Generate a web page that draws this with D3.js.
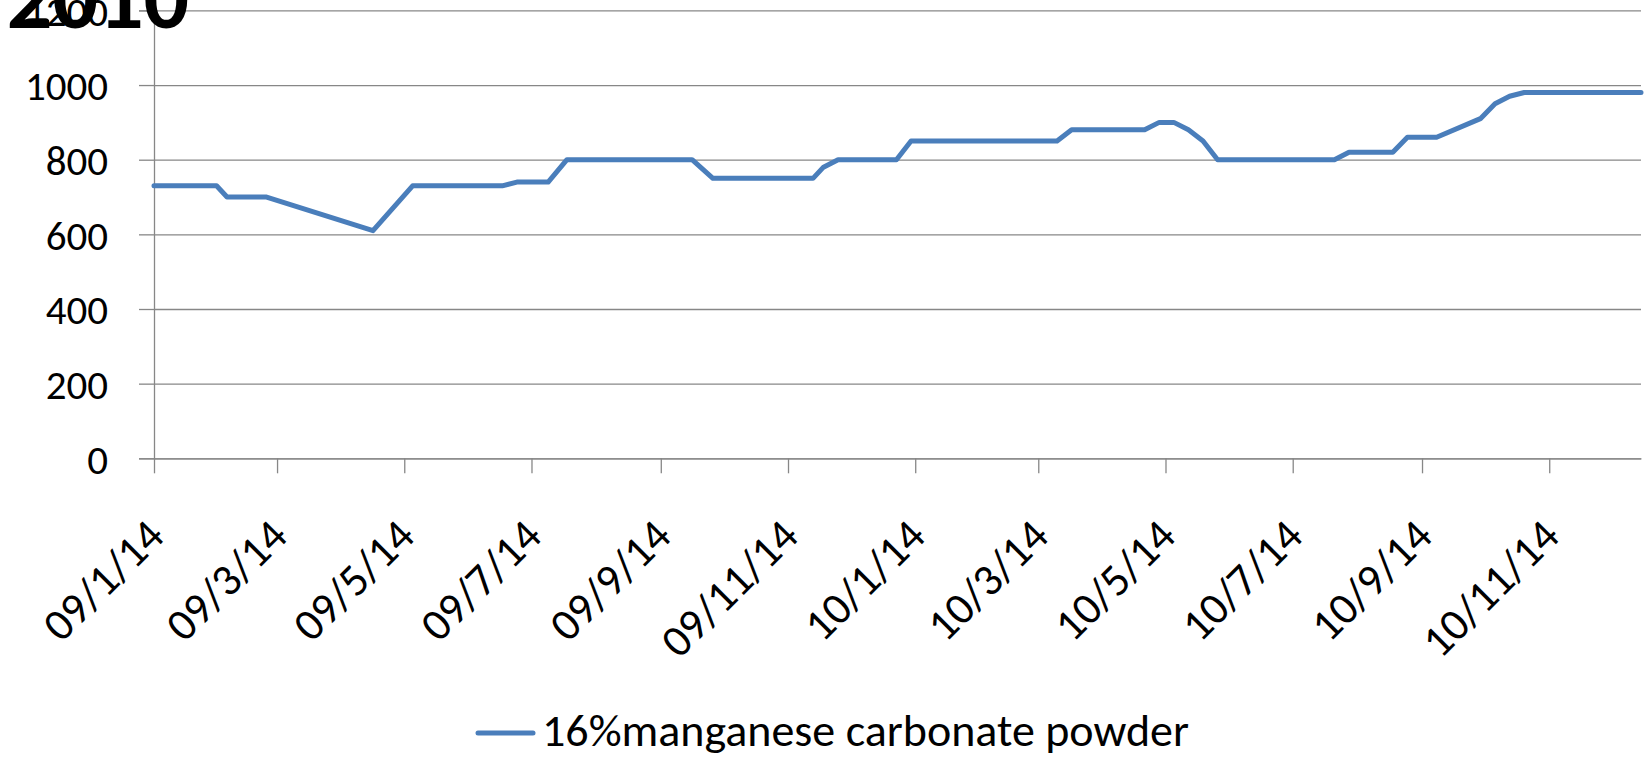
<html><head>
<title>2010 - manganese carbonate</title>
<script src="https://d3js.org/d3.v7.min.js"></script>
<style>
  body { margin: 0; background: #fff; }
  svg text { font-family: Carlito, Calibri, Lato, sans-serif; fill: #000; }
  .gridlines line { stroke: #878787; stroke-width: 1.3px; }
  .gridlines .domain { stroke: none; }
  .axis path, .axis line { stroke: #878787; stroke-width: 1.3px; }
  .line { stroke: #4a7ebb; stroke-width: 5px; fill: none; stroke-linejoin: round; stroke-linecap: round; }
</style>
</head>
<body>
<svg id="chart" width="1646" height="759"></svg>
<script>

// data (weekly-ish price points)
let dates = ["2009-01-14","2009-02-13","2009-02-18","2009-03-09","2009-04-29","2009-05-18",
  "2009-06-30","2009-07-07","2009-07-22","2009-07-31","2009-09-29","2009-10-09",
  "2009-11-26","2009-12-01","2009-12-08","2010-01-05","2010-01-12","2010-03-23",
  "2010-03-30","2010-05-04","2010-05-11","2010-05-18","2010-05-25","2010-06-01",
  "2010-06-08","2010-08-03","2010-08-10","2010-08-31","2010-09-07","2010-09-21",
  "2010-10-12","2010-10-19","2010-10-26","2010-11-02","2010-12-28"];
let prices = [730,730,700,700,610,730,
  730,740,740,800,800,750,
  750,780,800,800,850,850,
  880,880,900,900,880,850,
  800,800,820,820,860,860,
  910,950,970,980,980];
let xTickDates = ["2009-01-14","2009-03-14","2009-05-14","2009-07-14","2009-09-14","2009-11-14",
  "2010-01-14","2010-03-14","2010-05-14","2010-07-14","2010-09-14","2010-11-14"];
let yTicks = [0,200,400,600,800,1000,1200];
let seriesName = "16%manganese carbonate powder";
let chartTitle = "2010";

let parseDate = d3.timeParse("%Y-%m-%d");
let data = dates.map((d,i) => ({ date: parseDate(d), price: prices[i] }));

// 1. Housekeeping
let svg = d3.select("svg#chart");
let margin = { top: 10.4, left: 154, right: 5, bottom: 300.7 };
let chartWidth = svg.attr("width") - margin.left - margin.right;
let chartHeight = svg.attr("height") - margin.top - margin.bottom;

// 2. Scales
let xScale = d3.scaleTime()
  .domain([data[0].date, data[data.length-1].date])
  .range([0, chartWidth]);
let yScale = d3.scaleLinear().domain([0, 1200]).range([chartHeight, 0]);

// gridlines
let gridAxis = d3.axisLeft(yScale).tickValues(yTicks).tickSize(-chartWidth).tickFormat("");
svg.append("g").attr("class","gridlines")
  .attr("transform","translate("+margin.left+","+margin.top+")")
  .call(gridAxis);

// Y axis
let yAxis = d3.axisLeft(yScale).tickValues(yTicks).tickFormat(d3.format("d"))
  .tickSize(15).tickPadding(31);
let yG = svg.append("g").attr("class","y axis")
  .attr("transform","translate("+margin.left+","+margin.top+")")
  .call(yAxis);
yG.selectAll("text").style("font-size","41px").attr("dy","0.36em");

// X axis
let xAxis = d3.axisBottom(xScale)
  .tickValues(xTickDates.map(parseDate))
  .tickFormat(d3.timeFormat("%y/%-m/%d"))
  .tickSize(15).tickSizeOuter(0);
let xG = svg.append("g").attr("class","x axis")
  .attr("transform","translate("+margin.left+","+(margin.top+chartHeight)+")")
  .call(xAxis);
xG.selectAll("text")
  .style("font-size","45px")
  .attr("text-anchor","end")
  .attr("x",0).attr("y",0).attr("dy",0)
  .attr("transform","translate(12,80) rotate(-45)");

// 3. The line
let line = d3.line()
  .x(d => xScale(d.date))
  .y(d => yScale(d.price));

svg.append("g").attr("transform","translate("+margin.left+","+margin.top+")")
  .append("path").attr("class","line")
  .datum(data)
  .attr("d", line);

// 4. Legend
let legend = svg.append("g").attr("transform","translate(478,733)");
legend.append("line").attr("class","line")
  .attr("x1",0).attr("x2",55).attr("y1",0).attr("y2",0);
legend.append("text")
  .attr("x",64).attr("y",13)
  .style("font-size","46px")
  .text(seriesName);

// 5. Title (sits over the top of the axis, as in the original)
svg.append("text")
  .attr("x",98).attr("y",28)
  .attr("text-anchor","middle")
  .style("font-size","90px").style("font-weight","bold")
  .text(chartTitle);

</script>
</body>
</html>
